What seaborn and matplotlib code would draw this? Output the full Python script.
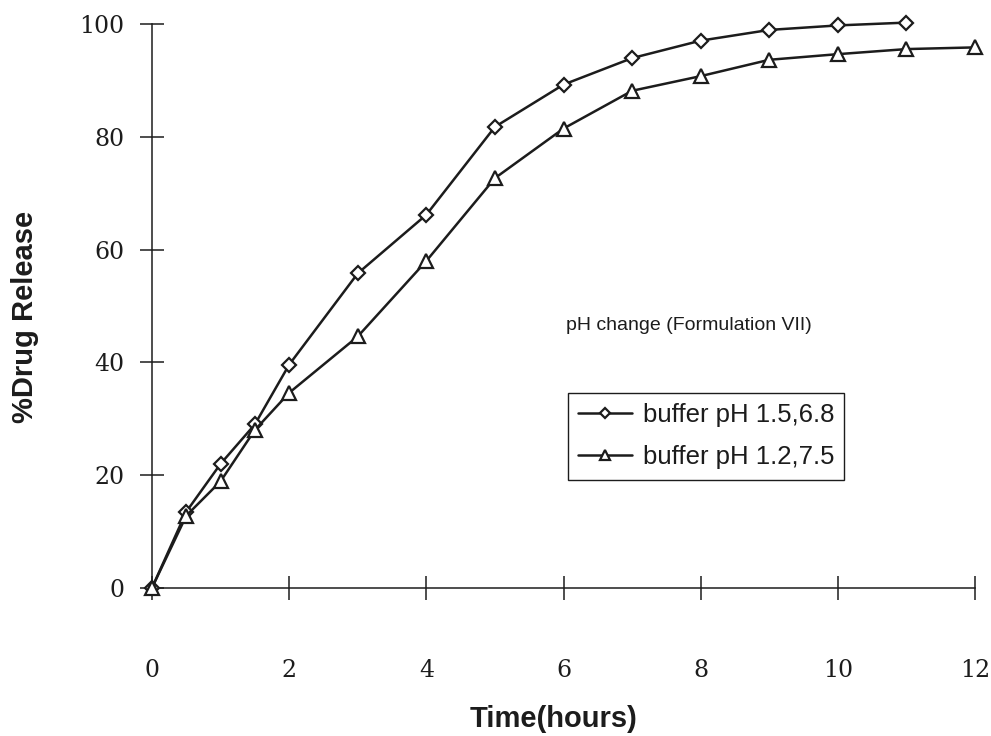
import matplotlib
matplotlib.use("Agg")
import matplotlib.pyplot as plt
import seaborn as sns
import pandas as pd

# ---- data ----
time_a = [0, 0.5, 1, 1.5, 2, 3, 4, 5, 6, 7, 8, 9, 10, 11]
release_a = [0, 13.5, 22.0, 29.0, 39.6, 55.8, 66.2, 81.8, 89.3, 94.0, 97.1, 99.0, 99.8, 100.3]
time_b = [0, 0.5, 1, 1.5, 2, 3, 4, 5, 6, 7, 8, 9, 10, 11, 12]
release_b = [0, 12.8, 18.9, 28.0, 34.6, 44.6, 58.0, 72.7, 81.5, 88.2, 90.8, 93.7, 94.7, 95.6, 95.9]
label_a = "buffer pH 1.5,6.8"
label_b = "buffer pH 1.2,7.5"
x_ticks = [0, 2, 4, 6, 8, 10, 12]
y_ticks = [0, 20, 40, 60, 80, 100]
x_label = "Time(hours)"
y_label = "%Drug Release"
note = "pH change (Formulation VII)"

df_a = pd.DataFrame({"t": time_a, "r": release_a})
df_b = pd.DataFrame({"t": time_b, "r": release_b})

sns.set_style("white")
plt.rcParams["font.family"] = ["Liberation Sans", "DejaVu Sans"]

fig = plt.figure(figsize=(9.91, 7.36), dpi=100)
ax = fig.add_axes([0.1534, 0.2014, 0.8305, 0.7656])

line_col = "#1c1c1c"
sns.lineplot(data=df_a, x="t", y="r", ax=ax, color=line_col, lw=1.8,
             marker="D", ms=7, mfc="white", mec=line_col, mew=1.6,
             label=label_a, clip_on=False, zorder=3)
sns.lineplot(data=df_b, x="t", y="r", ax=ax, color=line_col, lw=1.8,
             marker="^", ms=9.5, mfc="white", mec=line_col, mew=1.6,
             label=label_b, clip_on=False, zorder=3)

ax.set_xlim(0, 12)
ax.set_ylim(0, 100)
ax.set_xticks(x_ticks)
ax.set_yticks(y_ticks)
ax.set_xticklabels([str(v) for v in x_ticks], fontfamily="DejaVu Serif", fontsize=17)
ax.set_yticklabels([str(v) for v in y_ticks], fontfamily="DejaVu Serif", fontsize=17)

for s in ["top", "right"]:
    ax.spines[s].set_visible(False)
for s in ["left", "bottom"]:
    ax.spines[s].set_color(line_col)
    ax.spines[s].set_linewidth(1.1)

ax.tick_params(axis="both", which="major", bottom=True, left=True,
               direction="inout", length=17, width=1.1, colors=line_col)
ax.tick_params(axis="x", pad=43)
ax.tick_params(axis="y", pad=11.5)

ax.set_xlabel(x_label, fontsize=21, fontweight="bold", color=line_col)
ax.set_ylabel(y_label, fontsize=21, fontweight="bold", color=line_col)
ax.xaxis.set_label_coords(0.488, -0.208)
ax.yaxis.set_label_coords(-0.137, 0.481)

ax.text(6.03, 46.6, note, fontsize=14, ha="left", va="center", color=line_col)

leg = ax.legend(loc="upper left", bbox_to_anchor=(0.5055, 0.3457), borderaxespad=0,
                fontsize=18.5, frameon=True, fancybox=False, framealpha=1,
                edgecolor=line_col, handlelength=2.1, handletextpad=0.4,
                labelspacing=0.7, borderpad=0.4, markerscale=0.8)
leg.get_frame().set_linewidth(1.0)
for t in leg.get_texts():
    t.set_color(line_col)

fig.savefig("out.png", dpi=100, facecolor="white")
